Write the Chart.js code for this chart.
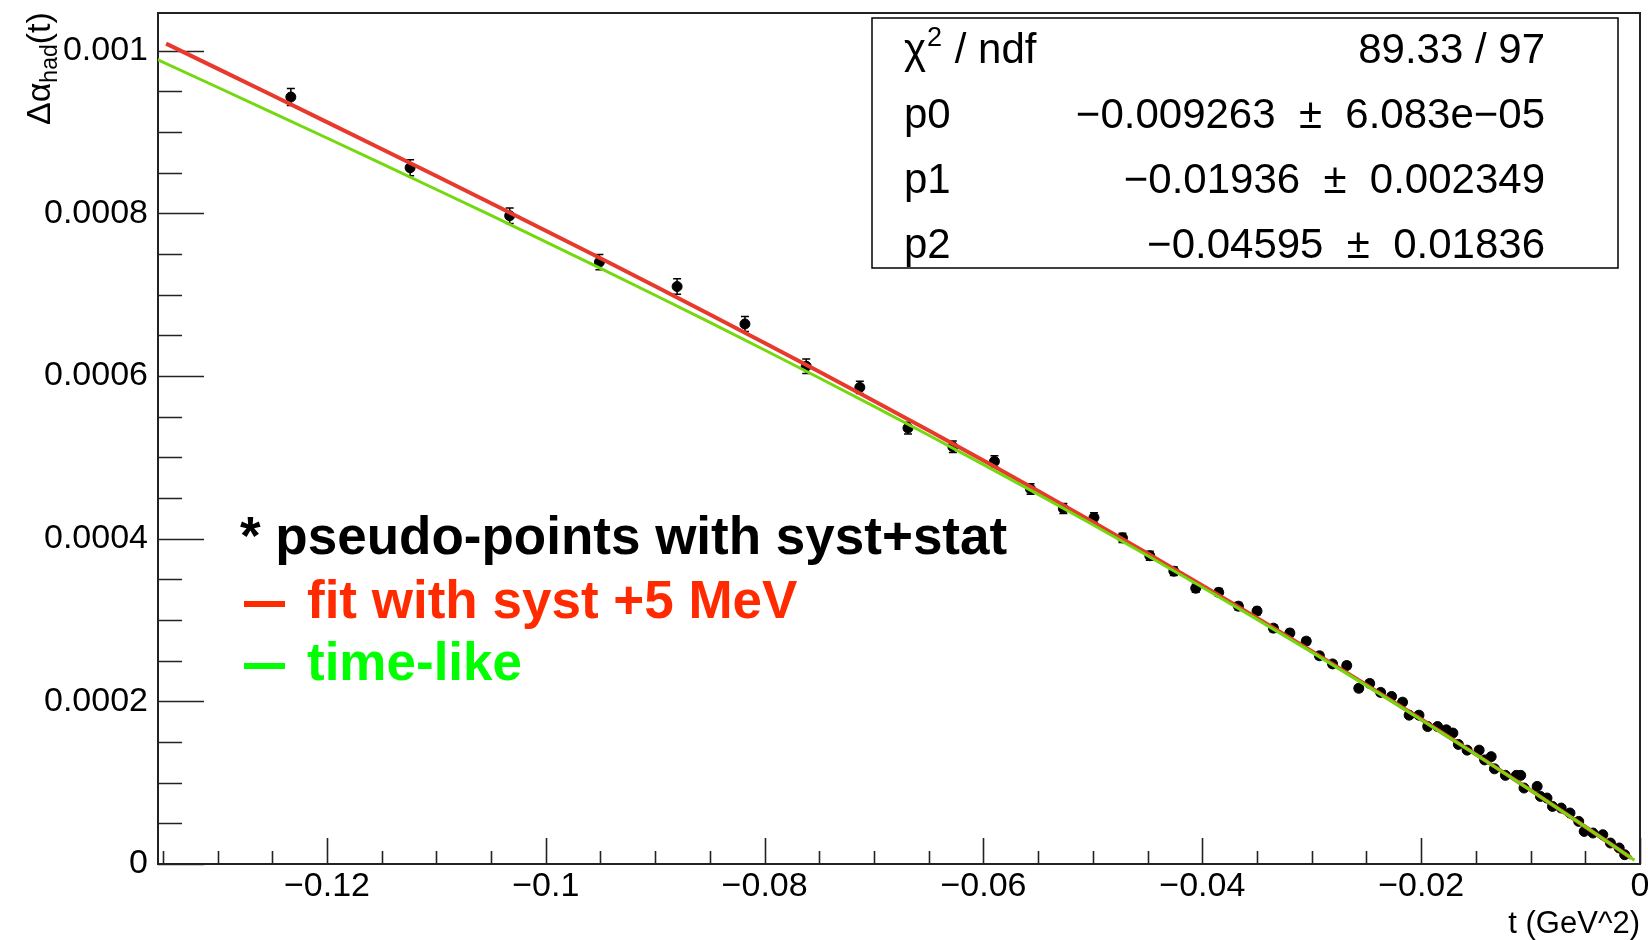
<!DOCTYPE html>
<html>
<head>
<meta charset="utf-8">
<script src="https://cdn.jsdelivr.net/npm/chart.js@4.4.1/dist/chart.umd.min.js"></script>
<style>
  html, body { margin: 0; padding: 0; background: #fff; }
</style>
</head>
<body>
<canvas id="grafico" width="1648" height="940"></canvas>
<script>
// pseudo-pontos (t, delta alpha_had, erro syst+stat)
const tPontos = [-0.1233, -0.1124, -0.1033, -0.0951, -0.0880, -0.0818, -0.0762, -0.0713, -0.0669, -0.0628,
  -0.0590, -0.0557, -0.0527, -0.0499, -0.0473, -0.0448, -0.0426, -0.0406, -0.0385, -0.0367,
  -0.0350, -0.0335, -0.0320, -0.0305, -0.0293, -0.0281, -0.0268, -0.0257, -0.0247, -0.0237,
  -0.0227, -0.0217, -0.0211, -0.0202, -0.0194, -0.0185, -0.0177, -0.0171, -0.0166, -0.0158,
  -0.0147, -0.0142, -0.0136, -0.0133, -0.0123, -0.0113, -0.0109, -0.0106, -0.0094, -0.0091,
  -0.0085, -0.0080, -0.0072, -0.0064, -0.0056, -0.0051, -0.0043, -0.0034, -0.0027, -0.0019, -0.0014];
const alphaPontos = [0.000943, 0.000856, 0.000797, 0.000740, 0.000710, 0.000664, 0.000612, 0.000586, 0.000536, 0.000513,
  0.000495, 0.000461, 0.000437, 0.000426, 0.000401, 0.000379, 0.000360, 0.000339, 0.000334, 0.000317,
  0.000311, 0.000290, 0.000284, 0.000274, 0.000256, 0.000246, 0.000244, 0.000216, 0.000222, 0.000211,
  0.000206, 0.000199, 0.000183, 0.000183, 0.000169, 0.000169, 0.000165, 0.000161, 0.000147, 0.000140,
  0.000140, 0.000128, 0.000132, 0.000117, 0.000109, 0.000109, 0.000109, 0.0000934, 0.0000954, 0.0000831,
  0.0000811, 0.0000708, 0.0000688, 0.0000627, 0.0000524, 0.0000401, 0.0000381, 0.0000360, 0.0000258, 0.0000197, 0.0000114];
const erroPontos = [0.0000105, 0.0000098, 0.0000095, 0.0000093, 0.0000095, 0.0000092, 0.0000090, 0.0000075, 0.0000072, 0.0000070,
  0.0000068, 0.0000065, 0.0000062, 0.0000060, 0.0000058, 0.0000055, 0.0000053, 0.0000050, 0.0000048, 0.0000046,
  0.0000045, 0.0000043, 0.0000042, 0.0000040, 0.0000040, 0.0000039, 0.0000039, 0.0000038, 0.0000038, 0.0000037,
  0.0000037, 0.0000036, 0.0000036, 0.0000035, 0.0000035, 0.0000034, 0.0000034, 0.0000033, 0.0000033, 0.0000032,
  0.0000032, 0.0000031, 0.0000031, 0.0000030, 0.0000030, 0.0000029, 0.0000029, 0.0000028, 0.0000028, 0.0000027,
  0.0000027, 0.0000026, 0.0000026, 0.0000025, 0.0000025, 0.0000024, 0.0000024, 0.0000023, 0.0000023, 0.0000022, 0.0000022];

// curva do fit (syst +5 MeV)
const tFit = [-0.1347, -0.130, -0.125, -0.120, -0.115, -0.110, -0.105, -0.100, -0.095, -0.090,
  -0.085, -0.080, -0.075, -0.070, -0.065, -0.060, -0.055, -0.050, -0.045, -0.040,
  -0.035, -0.030, -0.025, -0.020, -0.015, -0.010, -0.005, -0.0008];
const alphaFit = [0.0010087, 0.00097796, 0.00094513, 0.00091218, 0.0008791, 0.00084583, 0.00081237, 0.00077865, 0.00074467, 0.00071035,
  0.0006757, 0.00064067, 0.00060522, 0.00056931, 0.00053292, 0.00049601, 0.00045856, 0.00042049, 0.00038183, 0.00034248,
  0.00030246, 0.00026171, 0.0002202, 0.00017789, 0.00013475, 0.00009074, 0.00004584, 0.0000074];

// curva time-like
const tTimeLike = [-0.1355, -0.130, -0.125, -0.120, -0.115, -0.110, -0.105, -0.100, -0.095, -0.090,
  -0.085, -0.080, -0.075, -0.070, -0.065, -0.060, -0.055, -0.050, -0.045, -0.040,
  -0.035, -0.030, -0.025, -0.020, -0.015, -0.010, -0.005, -0.0005];
const alphaTimeLike = [0.000989, 0.000955, 0.0009238, 0.0008926, 0.0008611, 0.0008293, 0.0007974, 0.000765, 0.0007324, 0.0006993,
  0.0006659, 0.000632, 0.0005975, 0.0005626, 0.0005272, 0.0004911, 0.0004545, 0.0004171, 0.000379, 0.0003403,
  0.0003008, 0.0002605, 0.0002193, 0.0001774, 0.0001345, 0.0000906, 0.0000458, 0.0000046];

const xTicks = [-0.12, -0.1, -0.08, -0.06, -0.04, -0.02, 0];
const xTickLabels = ['\u22120.12', '\u22120.1', '\u22120.08', '\u22120.06', '\u22120.04', '\u22120.02', '0'];
const yTicks = [0, 0.0002, 0.0004, 0.0006, 0.0008, 0.001];
const yTickLabels = ['0', '0.0002', '0.0004', '0.0006', '0.0008', '0.001'];

const statsNomes = ['p0', 'p1', 'p2'];
const statsValores = [
  '89.33 / 97',
  '\u22120.009263  \u00b1  6.083e\u221205',
  '\u22120.01936  \u00b1  0.002349',
  '\u22120.04595  \u00b1  0.01836'
];

const legendaTextos = ['* pseudo-points with syst+stat', 'fit with syst +5 MeV', 'time-like'];
const legendaCores = ['#000000', '#ff2a00', '#00ff00'];

const FONTE = '"Liberation Sans", Arial, Helvetica, sans-serif';

const moldura = {
  id: 'moldura',
  beforeDatasetsDraw(chart) {
    const { ctx, chartArea: a, scales: { x, y } } = chart;
    ctx.save();
    ctx.strokeStyle = '#222';
    ctx.lineWidth = 2;
    ctx.strokeRect(a.left, a.top, a.right - a.left, a.bottom - a.top);

    // ticks do eixo x (principais a cada 0.02, secundarios a cada 0.005)
    ctx.lineWidth = 1.6;
    ctx.beginPath();
    for (let k = 0; k <= 27; k++) {
      const v = -0.135 + k * 0.005;
      const px = Math.round(x.getPixelForValue(v)) + 0.5;
      const principal = k % 4 === 3;
      ctx.moveTo(px, a.bottom);
      ctx.lineTo(px, a.bottom - (principal ? 26 : 13));
    }
    // ticks do eixo y
    for (let k = 0; k <= 20; k++) {
      const v = k * 0.00005;
      const py = Math.round(y.getPixelForValue(v)) + 0.5;
      const principal = k % 4 === 0;
      ctx.moveTo(a.left, py);
      ctx.lineTo(a.left + (principal ? 46 : 24), py);
    }
    ctx.stroke();

    // barras de erro
    ctx.strokeStyle = '#000';
    ctx.lineWidth = 1.5;
    ctx.beginPath();
    tPontos.forEach((t, i) => {
      const px = x.getPixelForValue(t);
      const y1 = y.getPixelForValue(alphaPontos[i] + erroPontos[i]);
      const y2 = y.getPixelForValue(alphaPontos[i] - erroPontos[i]);
      ctx.moveTo(px, y1); ctx.lineTo(px, y2);
      ctx.moveTo(px - 4, y1); ctx.lineTo(px + 4, y1);
      ctx.moveTo(px - 4, y2); ctx.lineTo(px + 4, y2);
    });
    ctx.stroke();
    ctx.restore();
  },
  afterDraw(chart) {
    const ctx = chart.ctx;
    ctx.save();
    ctx.fillStyle = '#000';

    // titulo do eixo y: delta alpha_had(t), girado
    ctx.translate(50, 125);
    ctx.rotate(-Math.PI / 2);
    ctx.textBaseline = 'alphabetic';
    ctx.font = '34px ' + FONTE;
    ctx.fillText('\u0394\u03b1', 0, 0);
    let w = ctx.measureText('\u0394\u03b1').width;
    ctx.font = '23px ' + FONTE;
    ctx.fillText('had', w, 7);
    w += ctx.measureText('had').width;
    ctx.font = '34px ' + FONTE;
    ctx.fillText('(t)', w, 0);
    ctx.setTransform(1, 0, 0, 1, 0, 0);

    // caixa de estatisticas do fit
    ctx.fillStyle = '#fff';
    ctx.fillRect(872, 18, 746, 250);
    ctx.strokeStyle = '#000';
    ctx.lineWidth = 1.5;
    ctx.strokeRect(872, 18, 746, 250);
    ctx.fillStyle = '#000';
    const linhas = [63, 128, 193, 258];
    ctx.font = '42px ' + FONTE;
    ctx.textAlign = 'left';
    ctx.fillText('\u03c7', 904, linhas[0]);
    const wc = ctx.measureText('\u03c7').width;
    ctx.font = '27px ' + FONTE;
    ctx.fillText('2', 904 + wc + 1, linhas[0] - 17);
    const w2 = ctx.measureText('2').width;
    ctx.font = '42px ' + FONTE;
    ctx.fillText(' / ndf', 904 + wc + w2 + 2, linhas[0]);
    statsNomes.forEach((n, i) => ctx.fillText(n, 904, linhas[i + 1]));
    ctx.textAlign = 'right';
    statsValores.forEach((v, i) => ctx.fillText(v, 1545, linhas[i]));

    // legenda
    ctx.textAlign = 'left';
    ctx.font = 'bold 53px ' + FONTE;
    const bases = [554, 618, 680];
    ctx.fillStyle = legendaCores[0];
    ctx.fillText(legendaTextos[0], 240, bases[0]);
    for (let i = 1; i < 3; i++) {
      ctx.fillStyle = legendaCores[i];
      ctx.fillRect(244, bases[i] - 17, 41, 6);
      ctx.fillText(legendaTextos[i], 307, bases[i]);
    }
    ctx.restore();
  }
};

const ctxGrafico = document.getElementById('grafico').getContext('2d');
new Chart(ctxGrafico, {
  type: 'scatter',
  data: {
    datasets: [
      {
        label: 'pseudo-points',
        data: tPontos.map((t, i) => ({ x: t, y: alphaPontos[i] })),
        backgroundColor: '#000',
        borderColor: '#000',
        pointRadius: 5,
        pointHoverRadius: 5,
        order: 3
      },
      {
        label: 'fit with syst +5 MeV',
        type: 'line',
        data: tFit.map((t, i) => ({ x: t, y: alphaFit[i] })),
        borderColor: '#e83a2c',
        borderWidth: 4,
        pointRadius: 0,
        fill: false,
        order: 2
      },
      {
        label: 'time-like',
        type: 'line',
        data: tTimeLike.map((t, i) => ({ x: t, y: alphaTimeLike[i] })),
        borderColor: '#74d80e',
        borderWidth: 3,
        pointRadius: 0,
        fill: false,
        order: 1
      }
    ]
  },
  options: {
    responsive: false,
    animation: false,
    devicePixelRatio: 1,
    layout: { padding: { left: 0, right: 8, top: 13, bottom: 0 } },
    plugins: { legend: { display: false }, tooltip: { enabled: false } },
    scales: {
      x: {
        type: 'linear',
        min: -0.13544,
        max: 0,
        afterBuildTicks: s => { s.ticks = xTicks.map(v => ({ value: v })); },
        afterFit: s => { s.height = 76; s.paddingLeft = 0; s.paddingRight = 0; },
        grid: { display: false, drawTicks: false },
        border: { display: false },
        ticks: {
          color: '#000',
          padding: 2,
          maxRotation: 0,
          autoSkip: false,
          font: { family: FONTE, size: 34 },
          callback: (v, i) => xTickLabels[i]
        },
        title: {
          display: true,
          text: 't (GeV^2)',
          align: 'end',
          color: '#000',
          padding: 0,
          font: { family: FONTE, size: 31, lineHeight: 1 }
        }
      },
      y: {
        type: 'linear',
        min: 0,
        max: 0.0010463,
        afterBuildTicks: s => { s.ticks = yTicks.map(v => ({ value: v })); },
        afterFit: s => { s.width = 158; s.paddingTop = 0; s.paddingBottom = 0; },
        grid: { display: false, drawTicks: false },
        border: { display: false },
        ticks: {
          color: '#000',
          padding: 10,
          autoSkip: false,
          font: { family: FONTE, size: 34 },
          callback: (v, i) => yTickLabels[i]
        }
      }
    }
  },
  plugins: [moldura]
});
</script>
</body>
</html>
